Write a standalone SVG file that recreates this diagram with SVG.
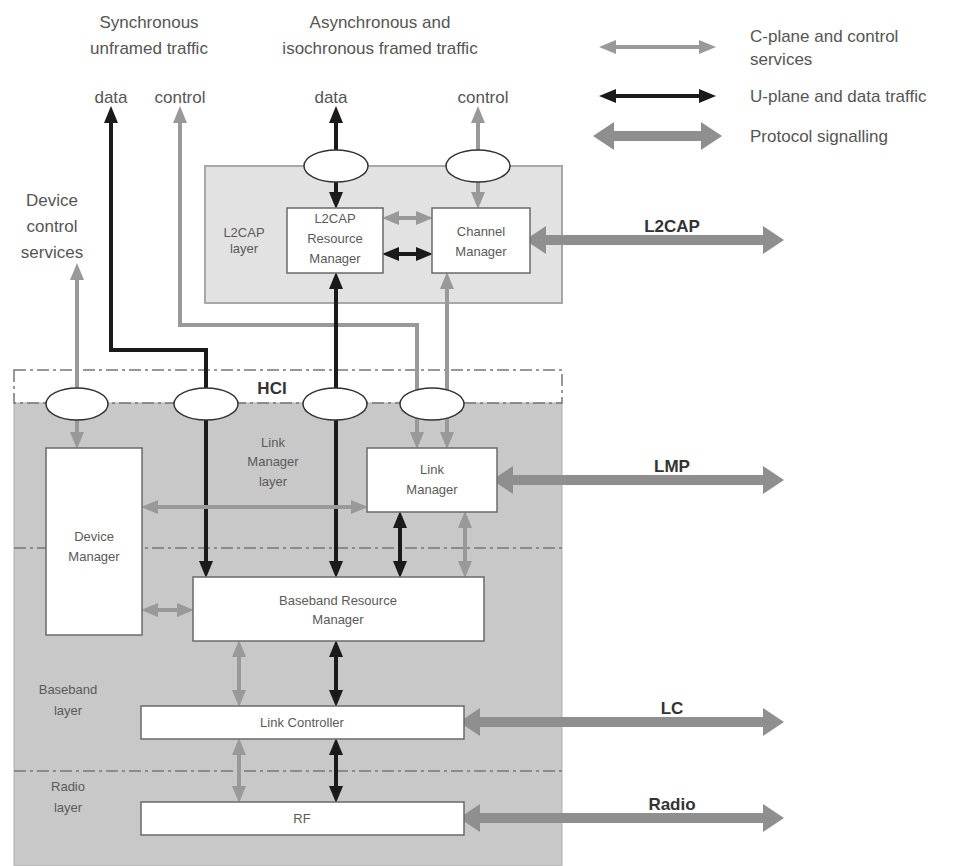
<svg xmlns="http://www.w3.org/2000/svg" width="976" height="866" viewBox="0 0 976 866">
<style>
text{font-family:"Liberation Sans",Arial,sans-serif;fill:#555}
.t17{font-size:17px;text-anchor:middle}
.lg{font-size:17px}
.sm{font-size:13px;text-anchor:middle;fill:#5a5a5a}
.bold{font-size:17px;font-weight:bold;text-anchor:middle;fill:#333}
.box{fill:#fff;stroke:#6a6a6a;stroke-width:1.5}
.ell{fill:#fff;stroke:#333;stroke-width:1.5}
.g{fill:none;stroke:#999;stroke-width:4}
.b{fill:none;stroke:#1a1a1a;stroke-width:4}
.th{fill:none;stroke:#8f8f8f;stroke-width:10}
.gm{marker-start:url(#ga);marker-end:url(#ga)}
.ge{marker-end:url(#ga)}
.bm{marker-start:url(#ba);marker-end:url(#ba)}
.be{marker-end:url(#ba)}
.tm{marker-start:url(#ta);marker-end:url(#ta)}
.dd{fill:none;stroke:#777;stroke-width:1.5;stroke-dasharray:12,4,3,4}
</style>
<defs>
<marker id="ga" markerUnits="userSpaceOnUse" markerWidth="18" markerHeight="16" refX="10" refY="8" orient="auto-start-reverse"><path d="M0,1 L17,8 L0,15 z" fill="#999"/></marker>
<marker id="ba" markerUnits="userSpaceOnUse" markerWidth="18" markerHeight="16" refX="10" refY="8" orient="auto-start-reverse"><path d="M0,1 L17,8 L0,15 z" fill="#1a1a1a"/></marker>
<marker id="ta" markerUnits="userSpaceOnUse" markerWidth="22" markerHeight="30" refX="8" refY="15" orient="auto-start-reverse"><path d="M0,1 L21,15 L0,29 z" fill="#8f8f8f"/></marker>
</defs>

<!-- layers -->
<g id="l2cap-layer"><rect x="205" y="166" width="357" height="137" fill="#e2e2e2" stroke="#a8a8a8" stroke-width="2"/>
<text class="sm" x="244" y="237">L2CAP</text><text class="sm" x="244" y="253">layer</text></g>
<g id="lower-layers"><rect x="14" y="403" width="548" height="463" fill="#c8c8c8" stroke="#b0b0b0" stroke-width="1"/>
<line class="dd" x1="14" y1="548" x2="562" y2="548"/><line class="dd" x1="14" y1="771" x2="562" y2="771"/></g>
<g id="hci"><rect class="dd" x="14" y="370" width="548" height="33"/><text class="bold" x="272" y="394">HCI</text></g>
<g id="lm-layer-label"><text class="sm" x="273" y="447">Link</text><text class="sm" x="273" y="466">Manager</text><text class="sm" x="273" y="486">layer</text></g>
<g id="bb-layer-label"><text class="sm" x="68" y="694">Baseband</text><text class="sm" x="68" y="715">layer</text></g>
<g id="radio-layer-label"><text class="sm" x="68" y="791">Radio</text><text class="sm" x="68" y="812">layer</text></g>

<!-- headings -->
<g id="headings">
<text class="t17" x="149" y="28">Synchronous</text><text class="t17" x="149" y="54">unframed traffic</text>
<text class="t17" x="380" y="28">Asynchronous and</text><text class="t17" x="380" y="54">isochronous framed traffic</text>
<text class="t17" x="111" y="103">data</text><text class="t17" x="180" y="103">control</text>
<text class="t17" x="331" y="103">data</text><text class="t17" x="483" y="103">control</text>
<text class="t17" x="52" y="206">Device</text><text class="t17" x="52" y="232">control</text><text class="t17" x="52" y="258">services</text>
</g>

<!-- legend -->
<g id="legend">
<line class="g gm" x1="606" y1="47" x2="709" y2="47"/>
<line class="b bm" x1="606" y1="96" x2="709" y2="96"/>
<line class="th tm" x1="606" y1="136" x2="709" y2="136"/>
<text class="lg" x="750" y="42">C-plane and control</text><text class="lg" x="750" y="65">services</text>
<text class="lg" x="750" y="102">U-plane and data traffic</text>
<text class="lg" x="750" y="142">Protocol signalling</text>
</g>

<!-- connectors -->
<g id="connectors">
<path class="b bm" d="M206,571 V350 H111 V113"/>
<path class="g gm" d="M417,442 V325 H180 V113"/>
<path class="g gm" d="M447,279 V442"/>
<path class="b be" d="M336,150 V113"/>
<path class="b be" d="M336,182 V202"/>
<path class="b bm" d="M336,279 V571"/>
<path class="g ge" d="M478,150 V113"/>
<path class="g ge" d="M478,182 V202"/>
<path class="g gm" d="M389,218 H426"/>
<path class="b bm" d="M389,254 H426"/>
<path class="g ge" d="M77,388 V270"/>
<path class="g ge" d="M77,420 V442"/>
<path class="g gm" d="M148,507 H361"/>
<path class="g gm" d="M148,610 H187"/>
<path class="b bm" d="M400,518 V571"/>
<path class="g gm" d="M465,518 V571"/>
<path class="g gm" d="M239,647 V700"/>
<path class="b bm" d="M336,647 V700"/>
<path class="g gm" d="M239,745 V796"/>
<path class="b bm" d="M336,745 V796"/>
<path class="th tm" d="M538,240 H771"/>
<path class="th tm" d="M505,480 H771"/>
<path class="th tm" d="M472,722 H771"/>
<path class="th tm" d="M472,818 H771"/>
<text class="bold" x="672" y="232">L2CAP</text>
<text class="bold" x="672" y="472">LMP</text>
<text class="bold" x="672" y="714">LC</text>
<text class="bold" x="672" y="810">Radio</text>
</g>

<!-- ellipses -->
<g id="ell-async-data"><ellipse class="ell" cx="336" cy="166" rx="32" ry="16"/></g>
<g id="ell-async-control"><ellipse class="ell" cx="478" cy="166" rx="32" ry="16"/></g>
<g id="ell-hci-1"><ellipse class="ell" cx="77" cy="404" rx="31" ry="16"/></g>
<g id="ell-hci-2"><ellipse class="ell" cx="206" cy="404" rx="32" ry="16"/></g>
<g id="ell-hci-3"><ellipse class="ell" cx="335" cy="404" rx="32" ry="16"/></g>
<g id="ell-hci-4"><ellipse class="ell" cx="432" cy="404" rx="32" ry="16"/></g>

<!-- nodes -->
<g id="l2cap-rm"><rect class="box" x="287" y="208" width="96" height="65"/>
<text class="sm" x="335" y="223">L2CAP</text><text class="sm" x="335" y="243">Resource</text><text class="sm" x="335" y="263">Manager</text></g>
<g id="channel-manager"><rect class="box" x="432" y="208" width="98" height="65"/>
<text class="sm" x="481" y="236">Channel</text><text class="sm" x="481" y="256">Manager</text></g>
<g id="device-manager"><rect class="box" x="46" y="448" width="96" height="187"/>
<text class="sm" x="94" y="541">Device</text><text class="sm" x="94" y="561">Manager</text></g>
<g id="link-manager"><rect class="box" x="367" y="448" width="130" height="64"/>
<text class="sm" x="432" y="474">Link</text><text class="sm" x="432" y="494">Manager</text></g>
<g id="baseband-rm"><rect class="box" x="193" y="577" width="291" height="64"/>
<text class="sm" x="338" y="605">Baseband Resource</text><text class="sm" x="338" y="624">Manager</text></g>
<g id="link-controller"><rect class="box" x="141" y="706" width="323" height="33"/>
<text class="sm" x="302" y="727">Link Controller</text></g>
<g id="rf"><rect class="box" x="141" y="802" width="323" height="33"/>
<text class="sm" x="302" y="823">RF</text></g>
</svg>
